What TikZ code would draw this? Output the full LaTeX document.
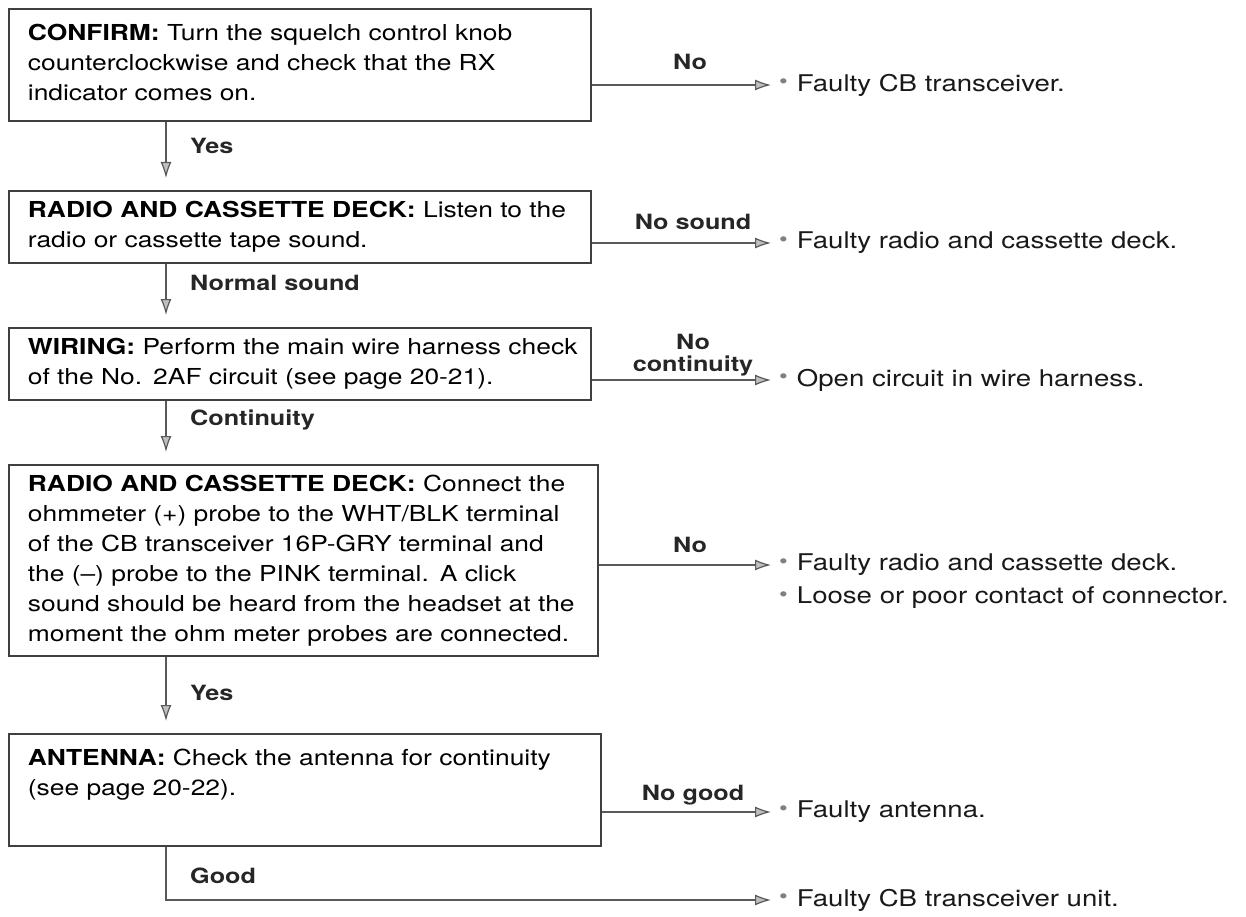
\documentclass[tikz,border=0pt]{standalone}
\usepackage{fontspec}
\setmainfont{TeX Gyre Heros}[FakeStretch=1.2]
\usetikzlibrary{arrows.meta}
\newcommand{\lines}[1]{\begin{tabular}{@{}l@{}}#1\end{tabular}}
\newcommand{\bul}{\textcolor{black!50}{\raisebox{0.1em}{\scalebox{0.9}{\textbullet}}}\hspace{9pt}}
\begin{document}
\begin{tikzpicture}[x=1pt,y=-1pt,
  every node/.style={font=\fontsize{22}{30}\selectfont},
  box/.style={draw=black!75, line width=1.8pt, anchor=north west, inner xsep=19pt, inner ysep=0pt, align=left},
  lbl/.style={font=\fontsize{21}{22}\selectfont\bfseries, text=black!85, align=center, inner sep=0pt},
  res/.style={anchor=west, inner sep=0pt, text=black!90, font=\fontsize{23}{30}\selectfont},
  conn/.style={draw=black!65, line width=1.8pt},
  arr/.style={conn, -{Latex[length=16pt,width=11pt,open,fill=black!25,line width=1.2pt]}}
]
\useasboundingbox (0,0) rectangle (1246,917);
\fill[white] (0,0) rectangle (1246,917);

\coordinate (xl) at (166,0);

\node[box, minimum width=582, minimum height=112, text width=544pt] (b1) at (8,8)
 {\lines{\textbf{CONFIRM:} Turn the squelch control knob\\counterclockwise and check that the RX\\indicator comes on.}};
\node[box, minimum width=582, minimum height=72, text width=544pt] (b2) at (8,190)
 {\lines{\textbf{RADIO AND CASSETTE DECK:} Listen to the\\radio or cassette tape sound.}};
\node[box, minimum width=582, minimum height=72, text width=544pt] (b3) at (8,327)
 {\lines{\textbf{WIRING:} Perform the main wire harness check\\of the No. 2AF circuit (see page 20-21).}};
\node[box, minimum width=589, minimum height=191, text width=551pt] (b4) at (8,464)
 {\lines{\textbf{RADIO AND CASSETTE DECK:} Connect the\\ohmmeter (+) probe to the WHT/BLK terminal\\of the CB transceiver 16P-GRY terminal and\\the (--) probe to the PINK terminal. A click\\sound should be heard from the headset at the\\moment the ohm meter probes are connected.}};
\node[box, minimum width=592, minimum height=112, text width=554pt] (b5) at (8,733)
 {\lines{\textbf{ANTENNA:} Check the antenna for continuity\\(see page 20-22).\\\mbox{}}};

% results
\node[res] (r1) at (779,85) {\bul Faulty CB transceiver.};
\node[res] (r2) at (779,243) {\bul Faulty radio and cassette deck.};
\node[res] (r3) at (779,380) {\bul Open circuit in wire harness.};
\node[res] (r4) at (779,565) {\bul Faulty radio and cassette deck.};
\node[res] (r4b) at (779,598) {\bul Loose or poor contact of connector.};
\node[res] (r5) at (779,812) {\bul Faulty antenna.};
\node[res] (r6) at (779,900) {\bul Faulty CB transceiver unit.};

% down connectors
\draw[arr, shorten >=12pt] (b1.south -| xl) -- (b2.north -| xl);
\draw[arr, shorten >=12pt] (b2.south -| xl) -- (b3.north -| xl);
\draw[arr, shorten >=12pt] (b3.south -| xl) -- (b4.north -| xl);
\draw[arr, shorten >=12pt] (b4.south -| xl) -- (b5.north -| xl);
\draw[arr, shorten >=8pt] (b5.south -| xl) |- (r6.west);

% right connectors
\draw[arr, shorten >=8pt] (r1.west -| b1.east) -- (r1.west);
\draw[arr, shorten >=8pt] (r2.west -| b2.east) -- (r2.west);
\draw[arr, shorten >=8pt] (r3.west -| b3.east) -- (r3.west);
\draw[arr, shorten >=8pt] (r4.west -| b4.east) -- (r4.west);
\draw[arr, shorten >=8pt] (r5.west -| b5.east) -- (r5.west);

% labels
\node[lbl] (l1) at (690,62) {No};
\node[lbl] (l2) at (693,222) {No sound};
\node[lbl] (l3) at (693,355) {No\\continuity};
\node[lbl] (l4) at (690,545) {No};
\node[lbl] (l5) at (693,795) {No good};

\node[lbl, anchor=west] (d1) at (190,146) {Yes};
\node[lbl, anchor=west] (d2) at (190,283) {Normal sound};
\node[lbl, anchor=west] (d3) at (190,420) {Continuity};
\node[lbl, anchor=west] (d4) at (190,693) {Yes};
\node[lbl, anchor=west] (d5) at (190,876) {Good};
\end{tikzpicture}
\end{document}
